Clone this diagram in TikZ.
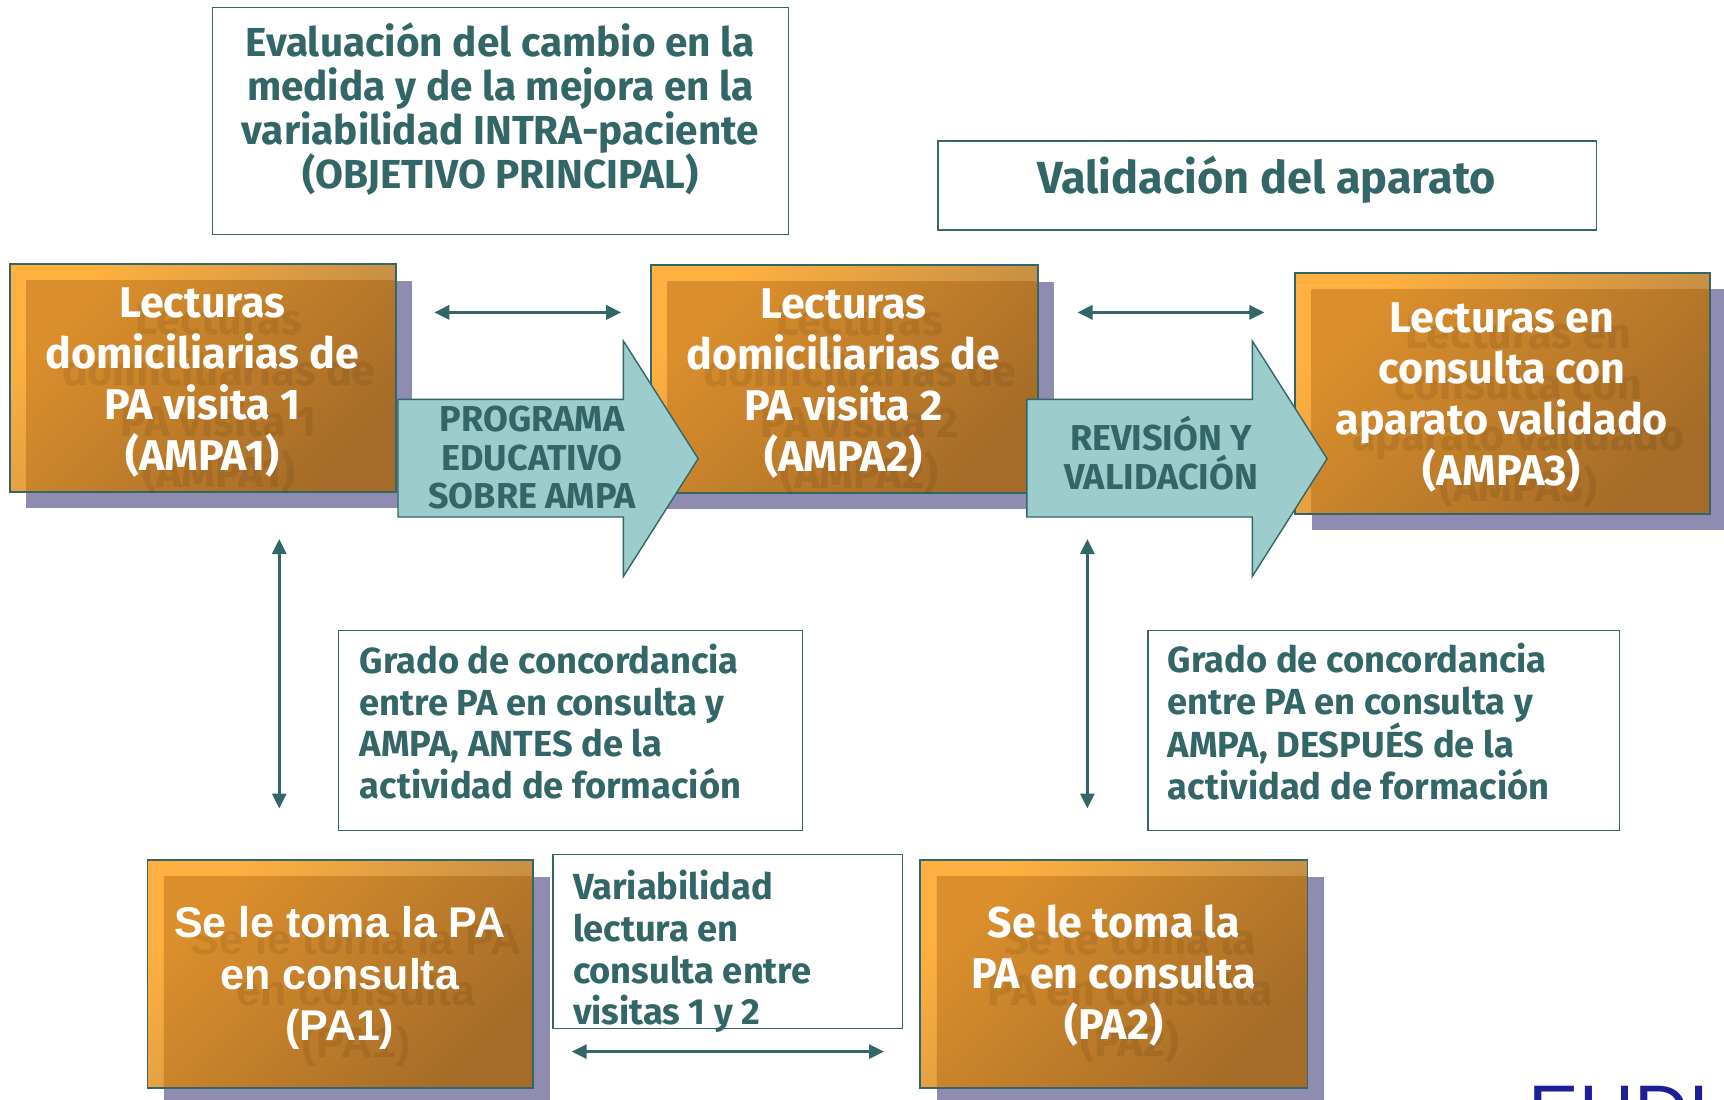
\documentclass[tikz,border=0pt]{standalone}
\usepackage{fontspec}
\setmainfont{Fira Sans}
\newfontfamily\arialbold{Liberation Sans}[BoldFont={Liberation Sans Bold}]
\usetikzlibrary{arrows.meta,fit,calc}
\definecolor{teal}{HTML}{336666}
\definecolor{aqua}{HTML}{9CCCCC}
\definecolor{shadowc}{HTML}{8E8CB0}
\definecolor{logoblue}{HTML}{1E1E96}
\tikzset{
  edge/.style={draw=teal,line width=1.6pt,inner sep=0pt,fill=none},
  whitebox/.style={draw=teal,line width=1.4pt,inner sep=0pt,fill=white},
  dbl/.style={draw=teal,line width=3pt,{Triangle[length=15pt,width=14pt]}-{Triangle[length=15pt,width=14pt]}},
  labtxt/.style={text=white,font=\bfseries\fontsize{43}{51}\selectfont,align=center,inner sep=0pt},
  ghost/.style={text=black,text opacity=0.08,font=\bfseries\fontsize{43}{51}\selectfont,align=center,inner sep=0pt},
  tealtxt/.style={text=teal,font=\bfseries\fontsize{40.5}{44}\selectfont,align=center,inner sep=0pt},
  smalltxt/.style={text=teal,font=\bfseries\fontsize{36.3}{41.7}\selectfont,align=left,inner sep=0pt,anchor=west},
  arrowtxt/.style={text=teal,font=\bfseries\fontsize{36}{38.5}\selectfont,align=center,inner sep=0pt},
  blockarrow/.style={draw=teal,line width=1.4pt,fill=aqua,line join=miter},
}
% #1 name, #2-#5 x1,y1,x2,y2
\newcommand\orangebox[5]{%
  \fill[shadowc] (#2+15,#3+15) rectangle (#4+15,#5+15);
  \shade[top color={rgb,255:red,255;green,176;blue,64},middle color={rgb,255:red,207;green,154;blue,72},bottom color={rgb,255:red,175;green,130;blue,70},shading angle=45] (#2,#3) rectangle (#4,#5);
  \shade[top color={rgb,255:red,218;green,142;blue,44},middle color={rgb,255:red,172;green,115;blue,41},bottom color={rgb,255:red,164;green,108;blue,40},shading angle=45] (#2+15,#3+15) rectangle (#4,#5);
  \node[edge,fit={(#2,#3)(#4,#5)}] (#1) {};
}
\newcommand\blockarr[7]{%
  \draw[blockarrow] (#2,#4) -- (#3,#4) -- (#3,#6) -- (#7,417) -- (#3,524) -- (#3,#5) -- (#2,#5) -- cycle;
  \coordinate (#1) at (#2,417);
}
\begin{document}
\begin{tikzpicture}[x=1.0995pt,y=-1.1pt]
\useasboundingbox (0,0) rectangle (1568,1000);
\begin{scope}
\clip (0,0) rectangle (1568,1000);

% logo fragment
\node[anchor=north west,inner sep=0pt,text=logoblue,font=\arialbold\fontsize{76}{76}\selectfont] (logo) at (1390,987) {EUDI};

% top white boxes
\node[whitebox,fit={(193,7)(717,213)}] (objbox) {};
\node[tealtxt] (objtxt) at (455,99) {Evaluación del cambio en la\\medida y de la mejora en la\\variabilidad INTRA-paciente\\(OBJETIVO PRINCIPAL)};
\node[whitebox,fit={(853,128)(1452,209)}] (valbox) {};
\node[tealtxt,font=\bfseries\fontsize{45}{44}\selectfont] (valtxt) at (1152,163) {Validación del aparato};

% orange boxes
\orangebox{b1}{9}{240}{360}{447}
\node[ghost] (b1g) at (199,363) {Lecturas\\domiciliarias de\\PA visita 1\\(AMPA1)};
\node[labtxt] (b1t) at (184,348) {Lecturas\\domiciliarias de\\PA visita 1\\(AMPA1)};

\orangebox{b2}{592}{241}{944}{448}
\node[ghost] (b2g) at (782,364) {Lecturas\\domiciliarias de\\PA visita 2\\(AMPA2)};
\node[labtxt] (b2t) at (767,349) {Lecturas\\domiciliarias de\\PA visita 2\\(AMPA2)};

\orangebox{b3}{1178}{248}{1555}{467}
\node[ghost] (b3g) at (1381,376) {Lecturas en\\consulta con\\aparato validado\\(AMPA3)};
\node[labtxt] (b3t) at (1366,361) {Lecturas en\\consulta con\\aparato validado\\(AMPA3)};

\orangebox{p1}{134}{782}{485}{989}
\node[ghost,font=\arialbold\bfseries\fontsize{43}{51.5}\selectfont] (p1g) at (324,904) {Se le toma la PA\\en consulta\\(PA1)};
\node[labtxt,font=\arialbold\bfseries\fontsize{43}{51.5}\selectfont] (p1t) at (309,889) {Se le toma la PA\\en consulta\\(PA1)};

\orangebox{p2}{837}{782}{1189}{989}
\node[ghost] (p2g) at (1028,902) {Se le toma la\\PA en consulta\\(PA2)};
\node[labtxt] (p2t) at (1013,887) {Se le toma la\\PA en consulta\\(PA2)};

% block arrows
\blockarr{a1}{362}{567}{363}{470}{310}{635}
\node[arrowtxt] (a1t) at (484,416) {PROGRAMA\\EDUCATIVO\\SOBRE AMPA};
\blockarr{a2}{934}{1139}{363}{470}{310}{1207}
\node[arrowtxt] (a2t) at (1056,412) {REVISIÓN Y\\VALIDACIÓN};

% lower white boxes
\node[whitebox,fit={(308,573)(730,755)}] (g1box) {};
\node[smalltxt] (g1txt) at (327,656) {Grado de concordancia\\entre PA en consulta y\\AMPA, ANTES de la\\actividad de formación};
\node[whitebox,fit={(1044,573)(1473,755)}] (g2box) {};
\node[smalltxt] (g2txt) at (1062,656) {Grado de concordancia\\entre PA en consulta y\\AMPA, DESPUÉS de la\\actividad de formación};
\node[whitebox,fit={(503,777)(821,935)}] (varbox) {};
\node[smalltxt] (vartxt) at (521,865) {Variabilidad\\lectura en\\consulta entre\\visitas 1 y 2};

% double arrows
\coordinate (h1a) at (395,284); \coordinate (h1b) at (565,284);
\coordinate (h2a) at (980,284); \coordinate (h2b) at (1150,284);
\coordinate (v1a) at (254,490); \coordinate (v1b) at (254,735);
\coordinate (v2a) at (989,490); \coordinate (v2b) at (989,735);
\coordinate (h3a) at (520,956); \coordinate (h3b) at (804,956);
\draw[dbl] (h1a) -- (h1b);
\draw[dbl] (h2a) -- (h2b);
\draw[dbl] (v1a) -- (v1b);
\draw[dbl] (v2a) -- (v2b);
\draw[dbl] (h3a) -- (h3b);
\end{scope}
\end{tikzpicture}
\end{document}
